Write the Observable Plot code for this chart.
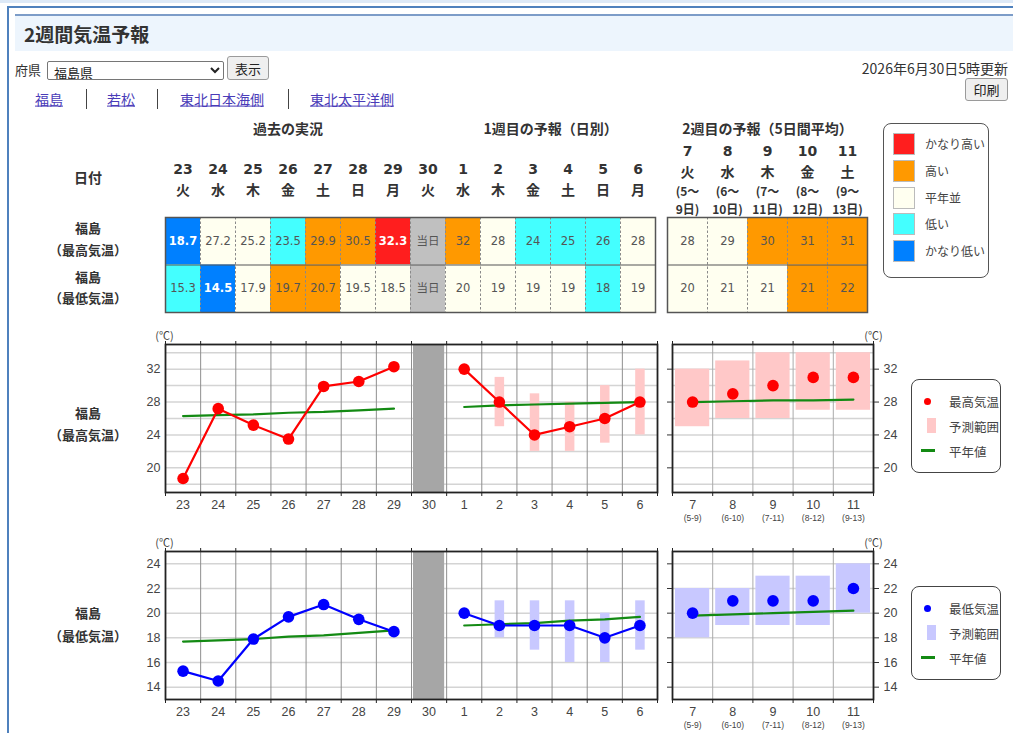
<!DOCTYPE html>
<html><head><meta charset="utf-8">
<script src="https://cdn.jsdelivr.net/npm/d3@7"></script>
<script src="https://cdn.jsdelivr.net/npm/@observablehq/plot@0.6"></script>
<style>
html,body{margin:0;padding:0;background:#fff;}
#page{position:relative;width:1013px;height:733px;overflow:hidden;font-family:"Noto Sans CJK JP","Noto Sans",sans-serif;color:#333;}
.abs{position:absolute;box-sizing:border-box;}
svg{overflow:visible;}
select,button{font-family:"Noto Sans CJK JP",sans-serif;}
</style></head>
<body><div id="page"></div>
<script>
// ---------- data ----------
const pastDates = ["23","24","25","26","27","28","29"];
const pastDays  = ["火","水","木","金","土","日","月"];
const todayDate = "30", todayDay = "火", todayLabel = "当日";
const w1Dates = ["1","2","3","4","5","6"];
const w1Days  = ["水","木","金","土","日","月"];
const w2Dates = ["7","8","9","10","11"];
const w2Days  = ["火","水","木","金","土"];
const w2From  = ["5","6","7","8","9"];
const w2To    = ["9","10","11","12","13"];

const pastMax = [18.7,27.2,25.2,23.5,29.9,30.5,32.3];
const pastMaxClass = ["vlow","norm","norm","low","high","high","vhigh"];
const pastMaxNormal = [26.3,26.4,26.5,26.7,26.8,27.0,27.2];
const pastMin = [15.3,14.5,17.9,19.7,20.7,19.5,18.5];
const pastMinClass = ["low","vlow","norm","high","high","norm","norm"];
const pastMinNormal = [17.7,17.8,17.9,18.1,18.2,18.4,18.6];

const w1Max = [32,28,24,25,26,28];
const w1MaxLo = [null,25,22,22,23,24];
const w1MaxHi = [null,31,29,28,30,32];
const w1MaxClass = ["high","norm","low","low","low","norm"];
const w1MaxNormal = [27.4,27.6,27.7,27.8,27.9,28.0];
const w1Min = [20,19,19,19,18,19];
const w1MinLo = [null,18,17,16,16,17];
const w1MinHi = [null,21,21,21,20,21];
const w1MinClass = ["norm","norm","norm","norm","low","norm"];
const w1MinNormal = [19.0,19.1,19.2,19.4,19.5,19.7];

const w2Max = [28,29,30,31,31];
const w2MaxLo = [25,26,26,27,27];
const w2MaxHi = [32,33,34,34,34];
const w2MaxClass = ["norm","norm","high","high","high"];
const w2MaxNormal = [28.0,28.1,28.2,28.2,28.3];
const w2Min = [20,21,21,21,22];
const w2MinLo = [18,19,19,19,20];
const w2MinHi = [22,22,23,23,24];
const w2MinClass = ["norm","norm","norm","high","high"];
const w2MinNormal = [19.8,19.9,20.0,20.1,20.2];

const classKeys = ["vhigh","high","norm","low","vlow"];
const classLabels = ["かなり高い","高い","平年並","低い","かなり低い"];
const classColors = ["#ff1e1e","#ff9900","#fffff0","#44ffff","#0080ff"];
const todayColor = "#c0c0c0";
const darkClasses = ["vhigh","vlow"];

const maxTicks = [20,24,28,32], maxGrid = [18,20,22,24,26,28,30,32,34], maxDomain = [17,35];
const minTicks = [14,16,18,20,22,24], minGrid = [14,16,18,20,22,24], minDomain = [13,25];

const groupTitles = ["過去の実況","1週目の予報（日別）","2週目の予報（5日間平均）"];
const rowNames = ["福島","（最高気温）","福島","（最低気温）"];

// ---------- helpers ----------
const page = document.getElementById("page");
function box(x,y,w,h,style){const d=document.createElement("div");d.className="abs";Object.assign(d.style,{left:x+"px",top:y+"px",width:w+"px",height:h+"px"},style||{});page.appendChild(d);return d;}
function txt(s,x,y,o={}){const d=document.createElement("div");d.textContent=s;const a=o.anchor||"middle";const tx=a==="start"?"0":a==="end"?"-100%":"-50%";
  Object.assign(d.style,{position:"absolute",left:x+"px",top:y+"px",transform:`translate(${tx},-50%)`,whiteSpace:"nowrap",fontSize:(o.size||13)+"px",fontWeight:o.weight||"normal",color:o.color||"#333",lineHeight:"1.2"},o.style||{});page.appendChild(d);return d;}
function place(svg,x,y){Object.assign(svg.style,{position:"absolute",left:x+"px",top:y+"px",overflow:"visible",background:"transparent",maxWidth:"none"});page.appendChild(svg);}

// ---------- page chrome ----------
box(0,0,1013,3,{background:"#dde9f7"});
box(7,6,1006,2,{background:"#4f81bd"});
box(7,6,2,727,{background:"#4f81bd"});
box(15,14,998,2,{background:"#7c9cc8"});
box(15,16,998,35,{background:"#edf5fd"});
txt("2週間気温予報",24,34,{anchor:"start",size:19,weight:"bold",color:"#333"});
txt("府県",15,70,{anchor:"start",size:13});
const sel=document.createElement("select");sel.innerHTML="<option>福島県</option>";
Object.assign(sel.style,{position:"absolute",left:"47px",top:"61px",width:"177px",height:"19px",fontSize:"13px",padding:"0 2px",border:"1px solid #767676",borderRadius:"2px",background:"#fff",color:"#222"});page.appendChild(sel);
function btn(label,x,y,w,h){const b=document.createElement("button");b.textContent=label;Object.assign(b.style,{position:"absolute",left:x+"px",top:y+"px",width:w+"px",height:h+"px",fontSize:"13px",padding:"0",background:"#efefef",border:"1px solid #9a9a9a",borderRadius:"3px",color:"#222"});page.appendChild(b);}
btn("表示",227,56,42,24);
btn("印刷",965,78,43,23);
txt("2026年6月30日5時更新",1008,68,{anchor:"end",size:14,color:"#333"});
const links=[["福島",35],["若松",107],["東北日本海側",180],["東北太平洋側",310]];
links.forEach(([s,x])=>txt(s,x,99,{anchor:"start",size:14,color:"#4a3cb8",style:{textDecoration:"underline"}}));
[86,157,288].forEach(x=>box(x,89,1,20,{background:"#444"}));

// ---------- row labels ----------
txt("日付",88,177,{size:14,weight:"bold"});
txt(rowNames[0],88,228,{size:13,weight:"bold"});
txt(rowNames[1],88,250,{size:13,weight:"bold"});
txt(rowNames[2],88,277,{size:13,weight:"bold"});
txt(rowNames[3],88,298,{size:13,weight:"bold"});
txt(rowNames[0],88,413,{size:13,weight:"bold"});
txt(rowNames[1],88,435,{size:13,weight:"bold"});
txt(rowNames[2],88,613,{size:13,weight:"bold"});
txt(rowNames[3],88,636,{size:13,weight:"bold"});

// ---------- tables ----------
const mainCols=[...pastDates,todayDate,...w1Dates];
const mainDays=[...pastDays,todayDay,...w1Days];
const todayIdx=pastDates.length, w1Off=todayIdx+1;
const cellsA=[];
pastDates.forEach((d,k)=>{cellsA.push({i:k,r:0,cls:pastMaxClass[k],label:pastMax[k].toFixed(1)});cellsA.push({i:k,r:1,cls:pastMinClass[k],label:pastMin[k].toFixed(1)});});
cellsA.push({i:todayIdx,r:0,cls:"today",label:todayLabel},{i:todayIdx,r:1,cls:"today",label:todayLabel});
w1Dates.forEach((d,k)=>{cellsA.push({i:k+w1Off,r:0,cls:w1MaxClass[k],label:String(w1Max[k])});cellsA.push({i:k+w1Off,r:1,cls:w1MinClass[k],label:String(w1Min[k])});});
const cellsB=[];
w2Dates.forEach((d,k)=>{cellsB.push({i:k,r:0,cls:w2MaxClass[k],label:String(w2Max[k])});cellsB.push({i:k,r:1,cls:w2MinClass[k],label:String(w2Min[k])});});

const numFont="DejaVu Sans, Noto Sans CJK JP, sans-serif";
const cjkFont="Noto Sans CJK JP, sans-serif";
const colorScale={domain:[...classKeys,"today"],range:[...classColors,todayColor]};
function tableMarks(cells,n){
  return [
    Plot.rect(cells,{x1:d=>d.i-0.5,x2:d=>d.i+0.5,y1:d=>d.r,y2:d=>d.r+1,fill:"cls"}),
    Plot.ruleX(d3.range(0.5,n-1,1),{stroke:"#8a8a8a",strokeDasharray:"2.5 2"}),
    Plot.ruleY([1],{stroke:"#555",strokeWidth:1.2}),
    Plot.frame({stroke:"#555",strokeWidth:1.5}),
    Plot.text(cells.filter(d=>!darkClasses.includes(d.cls)),{x:"i",y:d=>d.r+0.5,text:"label",fill:"#555",fontSize:11.5,fontFamily:numFont}),
    Plot.text(cells.filter(d=>darkClasses.includes(d.cls)),{x:"i",y:d=>d.r+0.5,text:"label",fill:"#fff",fontWeight:"bold",fontSize:11.5,fontFamily:numFont})
  ];
}
const groupsA=[{label:groupTitles[0],i:(0+todayIdx-1)/2},{label:groupTitles[1],i:(w1Off+mainCols.length-1)/2}];
const tableA=Plot.plot({
  width:490,height:192,marginTop:97,marginBottom:0,marginLeft:0,marginRight:0,
  x:{domain:[-0.5,mainCols.length-0.5],axis:null},
  y:{domain:[2,0],axis:null},
  color:colorScale,
  marks:[
    ...tableMarks(cellsA,mainCols.length),
    Plot.text(mainCols,{x:(d,i)=>i,frameAnchor:"top",dy:-53,text:d=>d,fontSize:14,fontWeight:"bold",fill:"#333",fontFamily:numFont}),
    Plot.text(mainDays,{x:(d,i)=>i,frameAnchor:"top",dy:-32,text:d=>d,fontSize:14,fontWeight:"bold",fill:"#333",fontFamily:cjkFont}),
    Plot.text(groupsA,{x:"i",frameAnchor:"top",dy:-93,text:"label",fontSize:14,fontWeight:"bold",fill:"#333",fontFamily:cjkFont})
  ]
});
place(tableA,165,120);
const tableB=Plot.plot({
  width:200,height:192,marginTop:97,marginBottom:0,marginLeft:0,marginRight:0,
  x:{domain:[-0.5,w2Dates.length-0.5],axis:null},
  y:{domain:[2,0],axis:null},
  color:colorScale,
  marks:[
    ...tableMarks(cellsB,w2Dates.length),
    Plot.text(w2Dates,{x:(d,i)=>i,frameAnchor:"top",dy:-71,text:d=>d,fontSize:14,fontWeight:"bold",fill:"#333",fontFamily:numFont}),
    Plot.text(w2Days,{x:(d,i)=>i,frameAnchor:"top",dy:-50,text:d=>d,fontSize:14,fontWeight:"bold",fill:"#333",fontFamily:cjkFont}),
    Plot.text(w2From,{x:(d,i)=>i,frameAnchor:"top",dy:-30,text:d=>"("+d+"～",fontSize:12,fontWeight:"bold",fill:"#333",fontFamily:cjkFont}),
    Plot.text(w2To,{x:(d,i)=>i,frameAnchor:"top",dy:-12,text:d=>d+"日)",fontSize:12,fontWeight:"bold",fill:"#333",fontFamily:cjkFont}),
    Plot.text([groupTitles[2]],{frameAnchor:"top",dy:-93,text:d=>d,fontSize:14,fontWeight:"bold",fill:"#333",fontFamily:cjkFont})
  ]
});
place(tableB,667,120);

// color legend
box(883,123,106,155,{border:"1px solid #555",borderRadius:"8px",background:"#fff"});
classLabels.forEach((s,k)=>{
  box(893,133+k*26.8,22,22,{background:classColors[k],border:"1px solid #bbb"});
  txt(s,925,144+k*26.8,{anchor:"start",size:12,color:"#444"});
});

// ---------- charts ----------
const green="#138a13";
const lblFont="Liberation Sans, Arial, sans-serif";
function mainChart(past,wk,domain,grid,ticks,color,rangeColor){
  const bounds=d3.range(-0.5,mainCols.length,1);
  const inner=bounds.slice(1,-1);
  return Plot.plot({
    width:532,height:19+148+30,marginLeft:35,marginRight:5,marginTop:19,marginBottom:30,
    x:{domain:[-0.5,mainCols.length-0.5]},
    y:{domain,axis:null},
    marks:[
      Plot.gridY(grid,{stroke:"#d4d4d4",strokeOpacity:1,strokeWidth:1.5}),
      Plot.gridX(inner,{stroke:"#8f8f8f",strokeOpacity:1}),
      Plot.rect([todayIdx],{x1:d=>d-0.5,x2:d=>d+0.5,fill:"#a6a6a6",insetLeft:2,insetRight:2}),
      Plot.ruleX(wk.filter(d=>d.lo!=null),{x:"i",y1:"lo",y2:"hi",stroke:rangeColor,strokeWidth:9.5}),
      Plot.line(past,{x:"i",y:"n",stroke:green,strokeWidth:2.2}),
      Plot.line(wk,{x:"i",y:"n",stroke:green,strokeWidth:2.2}),
      Plot.line(past,{x:"i",y:"v",stroke:color,strokeWidth:2.2}),
      Plot.line(wk,{x:"i",y:"v",stroke:color,strokeWidth:2.2}),
      Plot.dot(past,{x:"i",y:"v",r:5.8,fill:color}),
      Plot.dot(wk,{x:"i",y:"v",r:5.8,fill:color}),
      Plot.frame({stroke:"#222",strokeWidth:1.8}),
      Plot.axisX(bounds,{anchor:"top",tickSize:4,tickFormat:()=>"",label:null,stroke:"#222"}),
      Plot.axisX(bounds,{anchor:"bottom",tickSize:4,tickFormat:()=>"",label:null,stroke:"#222"}),
      Plot.text(mainCols,{x:(d,i)=>i,frameAnchor:"bottom",dy:16,text:d=>d,fontSize:12.5,fill:"#444",fontFamily:lblFont}),
      Plot.text(ticks,{y:d=>d,frameAnchor:"left",dx:-5,textAnchor:"end",text:d=>String(d),fontSize:12.5,fill:"#444",fontFamily:lblFont}),
      Plot.text(["(℃)"],{frameAnchor:"top-left",textAnchor:"middle",dy:-12,dx:-1,text:d=>d,fontSize:11,fill:"#444",fontFamily:cjkFont})
    ]
  });
}
function w2Chart(data,domain,grid,ticks,color,rangeColor){
  const bounds=d3.range(-0.5,w2Dates.length,1);
  const inner=bounds.slice(1,-1);
  return Plot.plot({
    width:12+201+40,height:19+148+30,marginLeft:12,marginRight:40,marginTop:19,marginBottom:30,
    x:{domain:[-0.5,w2Dates.length-0.5]},
    y:{domain},
    marks:[
      Plot.gridY(grid,{stroke:"#d4d4d4",strokeOpacity:1,strokeWidth:1.5}),
      Plot.gridX(inner,{stroke:"#aaa",strokeOpacity:1}),
      Plot.rect(data,{x1:d=>d.i-0.5,x2:d=>d.i+0.5,y1:"lo",y2:"hi",fill:rangeColor,insetLeft:3,insetRight:3}),
      Plot.line(data,{x:"i",y:"n",stroke:green,strokeWidth:2.2}),
      Plot.dot(data,{x:"i",y:"v",r:5.8,fill:color}),
      Plot.frame({stroke:"#222",strokeWidth:1.8}),
      Plot.axisX(bounds,{anchor:"top",tickSize:4,tickFormat:()=>"",label:null,stroke:"#222"}),
      Plot.axisX(bounds,{anchor:"bottom",tickSize:4,tickFormat:()=>"",label:null,stroke:"#222"}),
      Plot.axisY(ticks,{anchor:"left",tickSize:5,tickFormat:()=>"",label:null,stroke:"#333"}),
      Plot.axisY(ticks,{anchor:"right",tickSize:5,tickFormat:()=>"",label:null,stroke:"#333"}),
      Plot.text(ticks,{y:d=>d,frameAnchor:"right",dx:10,textAnchor:"start",text:d=>String(d),fontSize:12.5,fill:"#444",fontFamily:lblFont}),
      Plot.text(w2Dates,{x:(d,i)=>i,frameAnchor:"bottom",dy:16,text:d=>d,fontSize:12.5,fill:"#444",fontFamily:lblFont}),
      Plot.text(w2From,{x:(d,i)=>i,frameAnchor:"bottom",dy:28,text:(d,i)=>"("+d+"-"+w2To[i]+")",fontSize:8.5,fill:"#444",fontFamily:lblFont}),
      Plot.text(["(℃)"],{frameAnchor:"top-right",textAnchor:"middle",dy:-12,dx:0,text:d=>d,fontSize:11,fill:"#444",fontFamily:cjkFont})
    ]
  });
}
const pastMaxData=pastDates.map((d,k)=>({i:k,v:pastMax[k],n:pastMaxNormal[k]}));
const w1MaxData=w1Dates.map((d,k)=>({i:k+w1Off,v:w1Max[k],lo:w1MaxLo[k],hi:w1MaxHi[k],n:w1MaxNormal[k]}));
const w2MaxData=w2Dates.map((d,k)=>({i:k,v:w2Max[k],lo:w2MaxLo[k],hi:w2MaxHi[k],n:w2MaxNormal[k]}));
const pastMinData=pastDates.map((d,k)=>({i:k,v:pastMin[k],n:pastMinNormal[k]}));
const w1MinData=w1Dates.map((d,k)=>({i:k+w1Off,v:w1Min[k],lo:w1MinLo[k],hi:w1MinHi[k],n:w1MinNormal[k]}));
const w2MinData=w2Dates.map((d,k)=>({i:k,v:w2Min[k],lo:w2MinLo[k],hi:w2MinHi[k],n:w2MinNormal[k]}));

place(mainChart(pastMaxData,w1MaxData,maxDomain,maxGrid,maxTicks,"#ff0000","#ffc8c8"),130,325);
place(w2Chart(w2MaxData,maxDomain,maxGrid,maxTicks,"#ff0000","#ffc8c8"),660,325);
place(mainChart(pastMinData,w1MinData,minDomain,minGrid,minTicks,"#0000ff","#c8c8ff"),130,532);
place(w2Chart(w2MinData,minDomain,minGrid,minTicks,"#0000ff","#c8c8ff"),660,532);

// chart legends
function chartLegend(top,name,color,rangeColor){
  box(911,top,90,94,{border:"1px solid #444",borderRadius:"8px",background:"#fff"});
  box(923.5,top+18.5,7,7,{background:color,borderRadius:"50%"});
  box(927,top+39,9,15,{background:rangeColor});
  box(921,top+69.5,14,3,{background:green});
  txt(name,949,top+22,{anchor:"start",size:12.5,color:"#444"});
  txt("予測範囲",949,top+47,{anchor:"start",size:12.5,color:"#444"});
  txt("平年値",949,top+72,{anchor:"start",size:12.5,color:"#444"});
}
chartLegend(379,"最高気温","#ff0000","#ffc8c8");
chartLegend(586,"最低気温","#0000ff","#c8c8ff");
</script></body></html>
